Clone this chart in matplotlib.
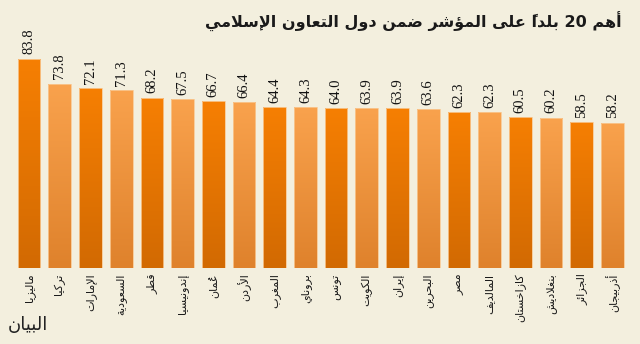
import numpy as np
import matplotlib
matplotlib.use("Agg")
import matplotlib.pyplot as plt
from matplotlib.colors import LinearSegmentedColormap

countries = ["ماليزيا", "تركيا", "الإمارات", "السعودية", "قطر", "إندونيسيا",
             "عُمان", "الأردن", "المغرب", "بروناي", "تونس", "الكويت", "إيران",
             "البحرين", "مصر", "المالديف", "كازاخستان", "بنغلاديش", "الجزائر",
             "أذربيجان"]
scores = [83.8, 73.8, 72.1, 71.3, 68.2, 67.5, 66.7, 66.4, 64.4, 64.3,
          64.0, 63.9, 63.9, 63.6, 62.3, 62.3, 60.5, 60.2, 58.5, 58.2]
title = "أهم 20 بلداً على المؤشر ضمن دول التعاون الإسلامي"
logo = "البيان"

# --- minimal Arabic shaping (matplotlib has no complex text layout) ---
LETTERS = "ءآأؤإئابةتثجحخدذرزسشصضطظعغفقكلمنهوىي"
NFORMS = [1, 2, 2, 2, 2, 4, 2, 4, 2, 4, 4, 4, 4, 4, 2, 2, 2, 2,
          4, 4, 4, 4, 4, 4, 4, 4, 4, 4, 4, 4, 4, 4, 4, 2, 2, 4]
FORMS = {}
code = 0xFE80
for ch, n in zip(LETTERS, NFORMS):
    FORMS[ch] = [chr(code + k) for k in range(n)]
    code += n
LAMALEF = {"آ": "\uFEF5\uFEF6", "أ": "\uFEF7\uFEF8",
           "إ": "\uFEF9\uFEFA", "ا": "\uFEFB\uFEFC"}
MARKS = set(chr(c) for c in range(0x064B, 0x0653))


def shape(text):
    chars = list(text)
    idx = [i for i, c in enumerate(chars) if c not in MARKS]
    base = [chars[i] for i in idx]
    clusters = []
    j = 0
    pos = 0
    while pos < len(chars):
        c = chars[pos]
        if c in MARKS:
            # marks go in front of their base letter once the run is reversed
            clusters[-1].insert(0, c)
            pos += 1
            continue
        prev = base[j - 1] if j > 0 else None
        nxt = base[j + 1] if j + 1 < len(base) else None
        if c not in FORMS:
            clusters.append([c])
            pos += 1
            j += 1
            continue
        jp = prev in FORMS and len(FORMS[prev]) == 4 and len(FORMS[c]) >= 2
        if c == "ل" and nxt in LAMALEF:
            clusters.append([LAMALEF[nxt][1 if jp else 0]])
            pos = idx[j + 1] + 1
            j += 2
            continue
        jn = nxt in FORMS and len(FORMS[c]) == 4 and len(FORMS[nxt]) >= 2
        f = FORMS[c]
        clusters.append([f[3] if jp and jn else f[1] if jp else f[2] if jn else f[0]])
        pos += 1
        j += 1
    # keep digit runs left-to-right, reverse the rest
    merged = []
    for cl in clusters:
        if cl[0].isdigit() and merged and merged[-1][0][0].isdigit():
            merged[-1] = [merged[-1][0] + cl[0]]
        else:
            merged.append(cl)
    return "".join("".join(cl) for cl in reversed(merged))


bg = "#F3EFDE"
fig = plt.figure(figsize=(6.4, 3.44), dpi=100, facecolor=bg)
ax = fig.add_axes([0.0166, 0.2209, 0.9692, 0.7267])
ax.set_facecolor(bg)

x = np.arange(len(scores))
bars = ax.bar(x, scores, width=0.74, color="none", edgecolor="#F8C892",
              linewidth=0.6, zorder=3)

dark = LinearSegmentedColormap.from_list("dark", ["#D26A02", "#F67F02"])
light = LinearSegmentedColormap.from_list("light", ["#DF822C", "#F9A24D"])
grad = np.linspace(0, 1, 64).reshape(-1, 1)
for i, b in enumerate(bars):
    x0 = b.get_x()
    im = ax.imshow(grad, extent=[x0, x0 + b.get_width(), 0, b.get_height()],
                   origin="lower", aspect="auto",
                   cmap=dark if i % 2 == 0 else light, zorder=2)
    im.set_clip_path(b)

for xi, v in zip(x, scores):
    ax.annotate(f"{v:.1f}", (xi, v), xytext=(0, 3), textcoords="offset points",
                rotation=90, ha="center", va="bottom", fontsize=10.5,
                family="Liberation Serif", color="#111111")

for xi, name in zip(x, countries):
    ax.annotate(shape(name), (xi, 0), xytext=(0, -4), textcoords="offset points",
                rotation=90, ha="center", va="top", fontsize=8,
                family="DejaVu Sans", color="#1a1a1a")

ax.set_xlim(-0.6, 19.6)
ax.set_ylim(0, 100)
ax.axis("off")

fig.text(0.972, 0.936, shape(title), ha="right", va="center", fontsize=11.5,
         fontweight="bold", family="DejaVu Sans", color="#1a1a1a")
fig.text(0.012, 0.055, shape(logo), ha="left", va="center", fontsize=13,
         family="DejaVu Sans", color="#222222")

fig.savefig("out.png", dpi=100, facecolor=bg)
